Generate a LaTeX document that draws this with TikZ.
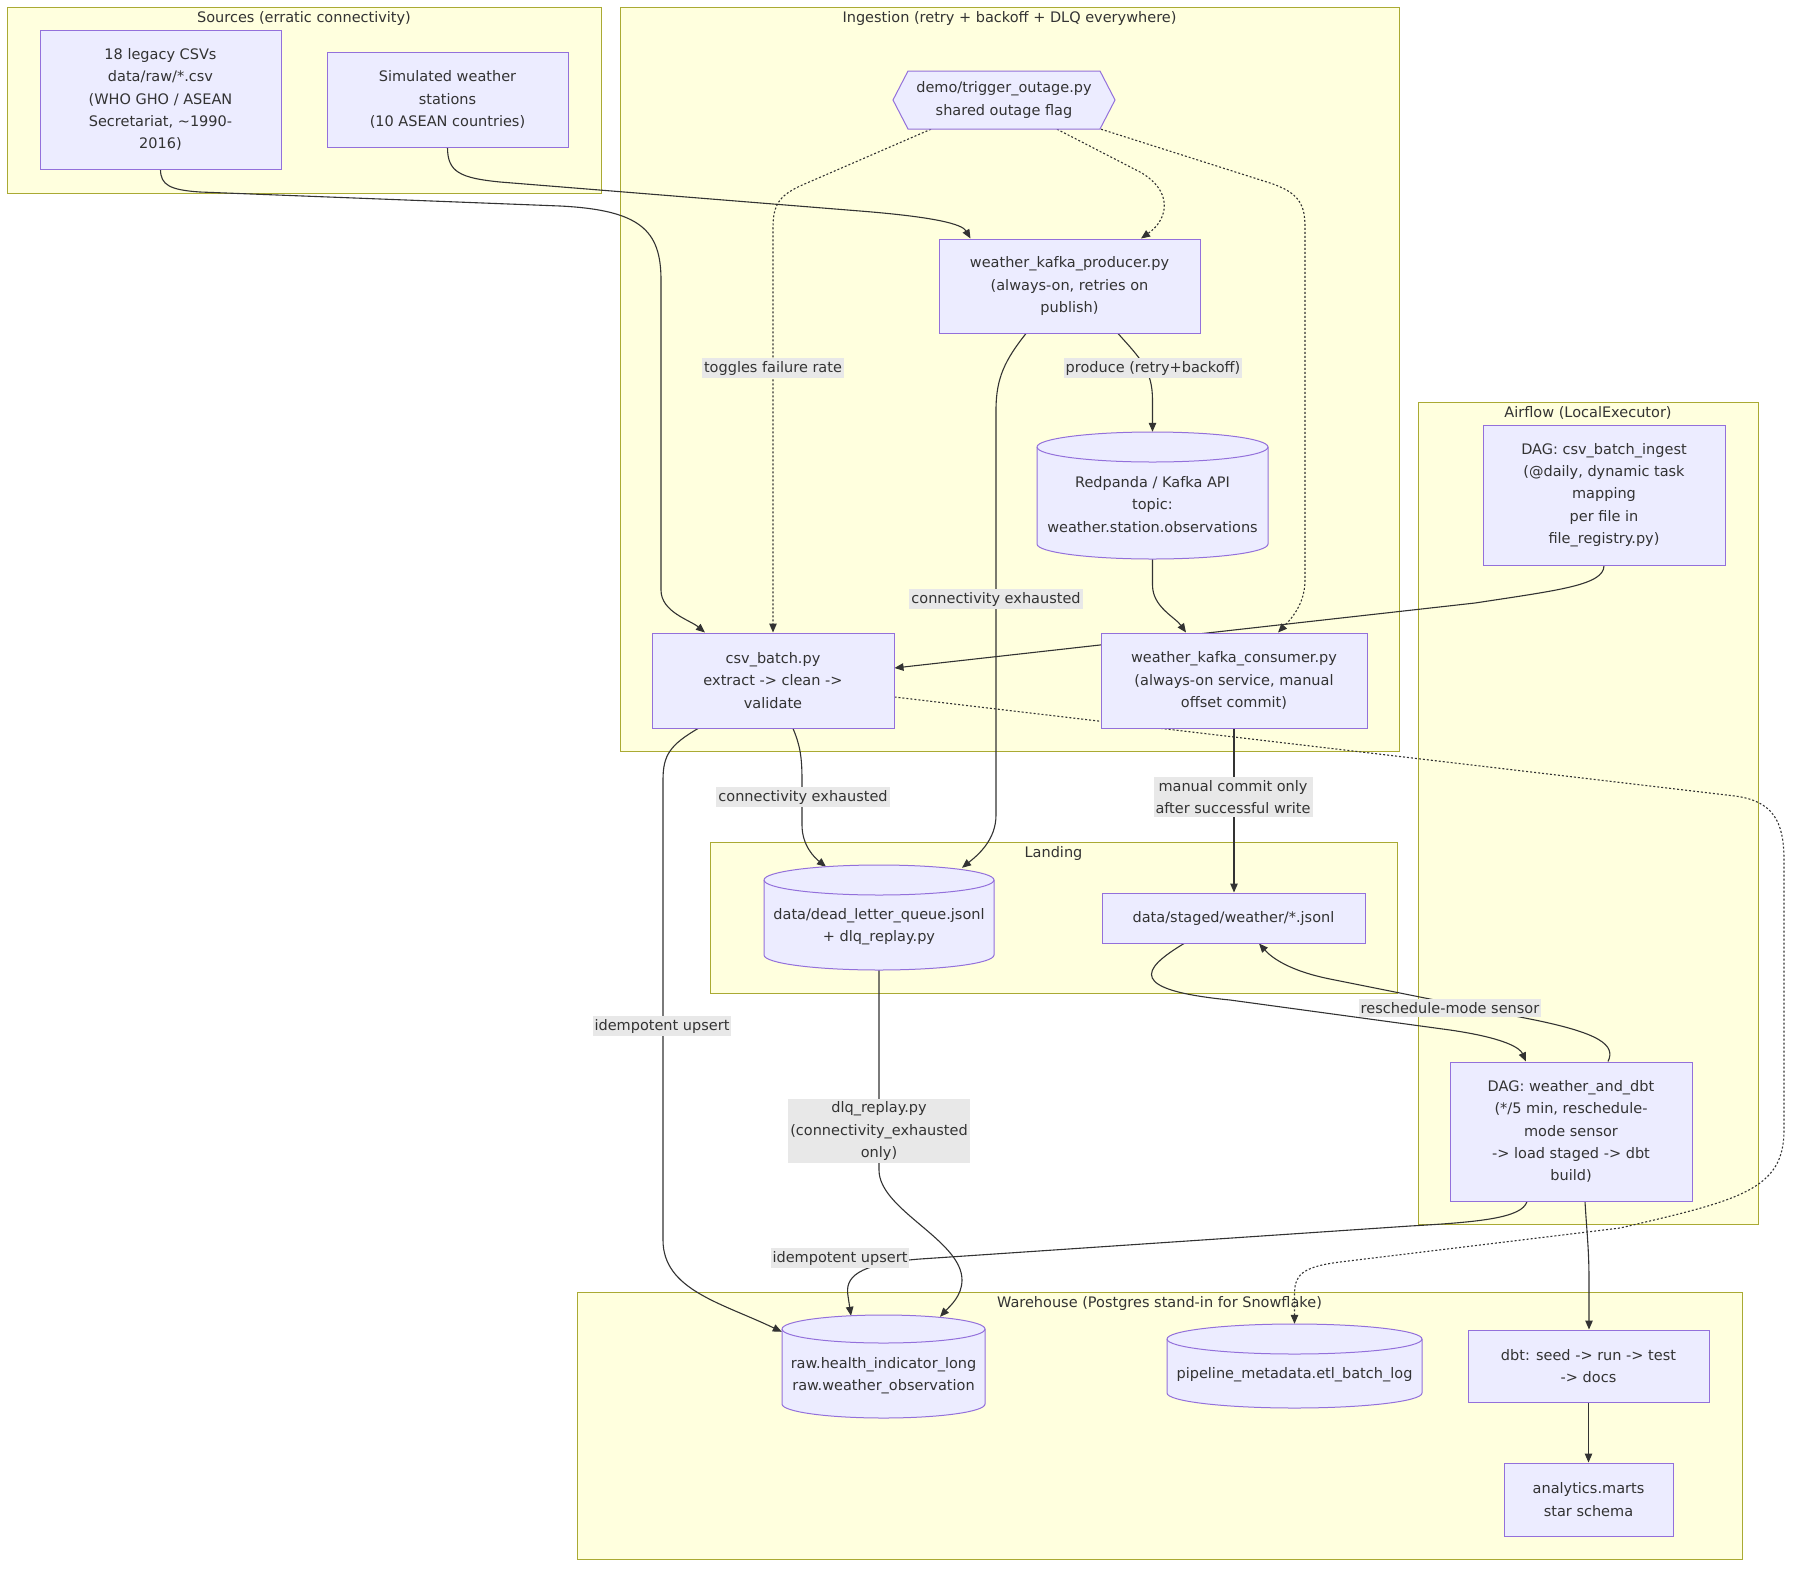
\documentclass[tikz,border=0pt]{standalone}
\usepackage{fontspec}
\setmainfont{DejaVu Sans}
\usetikzlibrary{arrows.meta,calc}
\definecolor{nodefill}{HTML}{ECECFF}
\definecolor{nodeborder}{HTML}{9370DB}
\definecolor{clfill}{HTML}{FFFFDE}
\definecolor{clborder}{HTML}{AAAA33}
\definecolor{edgecol}{HTML}{333333}
\definecolor{textcol}{HTML}{333333}
\definecolor{labelbg}{HTML}{E8E8E8}
\pgfdeclarelayer{clusters}
\pgfdeclarelayer{edges}
\pgfsetlayers{clusters,edges,main}
\tikzset{
  nodebox/.style={draw=nodeborder, fill=nodefill, line width=1pt, align=center, inner sep=0pt, text=textcol},
  nodeline/.style={draw=nodeborder, line width=1pt},
  anchorbox/.style={inner sep=0pt, draw=none},
  cyltext/.style={align=center, inner sep=0pt, text=textcol},
  clbox/.style={fill=clfill, draw=clborder, line width=1pt},
  cltitle/.style={text=textcol, inner sep=0pt},
  conn/.style={draw=edgecol, line width=1.1pt, -{Triangle[length=9pt,width=7.5pt]}},
  dotconn/.style={conn, dash pattern=on 2pt off 2pt},
  elabel/.style={fill=labelbg, inner xsep=2pt, inner ysep=3pt, align=center, text=textcol},
}
\newcommand\rectnode[6]{%
  \node[nodebox, minimum width={#4-#2}, minimum height={#5-#3}] (#1) at ({(#2+#4)/2},{(#3+#5)/2}) {#6};}
\newcommand\dbcyl[7]{% name, x1, y1, x2, y2, ry, text
  \pgfmathsetmacro\cylrx{(#4-#2)/2}%
  \pgfmathsetmacro\cylcx{(#2+#4)/2}%
  \pgfmathsetmacro\cylcy{(#3+#5)/2}%
  \filldraw[nodeline, fill=nodefill] (#2,{#3+#6}) -- (#2,{#5-#6})
     arc[start angle=180,end angle=360,x radius=\cylrx pt,y radius=#6pt]
     -- (#4,{#3+#6})
     arc[start angle=0,end angle=180,x radius=\cylrx pt,y radius=#6pt] -- cycle;
  \draw[nodeline] (#2,{#3+#6}) arc[start angle=180,end angle=360,x radius=\cylrx pt,y radius=#6pt];
  \node[anchorbox, minimum width={#4-#2}, minimum height={#5-#3}] (#1) at (\cylcx,\cylcy) {};
  \node[cyltext] (#1-text) at (\cylcx,{\cylcy+9}) {#7};}
\newcommand\clusterbox[6]{% name, x1,y1,x2,y2,title
  \draw[clbox] (#2,#3) rectangle (#4,#5);
  \node[cltitle] (#1) at ({(#2+#4)/2},{#3+11}) {#6};}

\begin{document}
\begin{tikzpicture}[x=1pt,y=-1pt,font=\fontsize{14.5}{22.3}\selectfont]
\useasboundingbox (0,0) rectangle (1800,1575);

\begin{pgfonlayer}{clusters}
  \fill[white] (0,0) rectangle (1800,1575);
  \clusterbox{clsrc}{7}{7}{601}{193}{Sources (erratic connectivity)}
  \clusterbox{cling}{620}{7}{1399}{751}{Ingestion (retry + backoff + DLQ everywhere)}
  \clusterbox{clair}{1418}{402}{1758}{1224}{Airflow (LocalExecutor)}
  \clusterbox{clland}{710}{842}{1397}{993}{Landing}
  \clusterbox{clwh}{577}{1292}{1742}{1559}{Warehouse (Postgres stand-in for Snowflake)}
\end{pgfonlayer}

% ---------- nodes ----------
\rectnode{csvs}{40}{30}{281}{169}{18 legacy CSVs\\data/raw/*.csv\\(WHO GHO / ASEAN\\Secretariat, \textasciitilde1990-\\2016)}
\rectnode{sim}{327}{52}{568}{147}{Simulated weather\\stations\\(10 ASEAN countries)}

\filldraw[nodeline, fill=nodefill] (893,100) -- (908,71) -- (1100,71) -- (1115,100) -- (1100,129) -- (908,129) -- cycle;
\node[anchorbox, align=center, text=textcol, minimum width=222, minimum height=58] (hex) at (1004,100) {demo/trigger\_outage.py\\shared outage flag};

\rectnode{prod}{939}{239}{1200}{333}{weather\_kafka\_producer.py\\(always-on, retries on\\publish)}
\dbcyl{rp}{1037}{432}{1268}{559}{15}{Redpanda / Kafka API\\topic:\\weather.station.observations}
\rectnode{csvb}{652}{633}{894}{728}{csv\_batch.py\\extract -> clean ->\\validate}
\rectnode{cons}{1101}{633}{1367}{728}{weather\_kafka\_consumer.py\\(always-on service, manual\\offset commit)}
\rectnode{dagcsv}{1483}{425}{1725}{565}{DAG: csv\_batch\_ingest\\(@daily, dynamic task\\mapping\\per file in\\file\_registry.py)}
\dbcyl{dlq}{764}{865}{994}{970}{15}{data/dead\_letter\_queue.jsonl\\+ dlq\_replay.py}
\rectnode{staged}{1102}{893}{1365}{943}{data/staged/weather/*.jsonl}
\rectnode{dagw}{1450}{1062}{1692}{1201}{DAG: weather\_and\_dbt\\(*/5 min, reschedule-\\mode sensor\\-> load staged -> dbt\\build)}
\dbcyl{raw}{782}{1315}{985}{1418}{14}{raw.health\_indicator\_long\\raw.weather\_observation}
\dbcyl{meta}{1167}{1324}{1422}{1408}{15}{pipeline\_metadata.etl\_batch\_log}
\rectnode{dbt}{1468}{1330}{1709}{1402}{dbt: seed -> run -> test\\-> docs}
\rectnode{marts}{1504}{1463}{1673}{1536}{analytics.marts\\star schema}

% ---------- connectors ----------
\begin{pgfonlayer}{edges}
\draw[conn] (csvs.south) .. controls (160.5,185) and (170,190) .. (200,192) -- (560,206)
  .. controls (640,210) and (661,230) .. (661,280) -- (661,590)
  .. controls (661,612) and (690,620) .. ([xshift=-68pt]csvb.north);
\draw[conn] (sim.south) .. controls (447.5,172) and (460,178) .. (500,182) -- (860,211)
  .. controls (935,217) and (962,224) .. ([xshift=-99pt]prod.north);
\draw[dotconn] ([xshift=-73pt]hex.south) -- (800,186) .. controls (779,196) and (773,205) .. (773,228) -- (csvb.north);
\draw[dotconn] ([xshift=53pt]hex.south) -- (1140,172) .. controls (1172,190) and (1170,218) .. ([xshift=71.5pt]prod.north);
\draw[dotconn] ([xshift=97pt]hex.south) -- (1270,183) .. controls (1300,193) and (1305,205) .. (1305,228) -- (1305,580)
  .. controls (1305,605) and (1290,620) .. ([xshift=44pt]cons.north);
\draw[conn] ([xshift=-43.5pt]prod.south) .. controls (1005,360) and (996,378) .. (996,410) -- (996,815)
  .. controls (996,840) and (978,855) .. ([xshift=83pt,yshift=-3pt]dlq.north);
\draw[conn] ([xshift=48.5pt]prod.south) .. controls (1140,358) and (1152.5,370) .. (1152.5,400) -- (rp.north);
\draw[conn] (rp.south) -- (1152.5,585) .. controls (1152.5,607) and (1175,617) .. ([xshift=-48pt]cons.north);
\draw[conn] (dagcsv.south) .. controls (1604,585) and (1560,590) .. (1475,603) -- ([yshift=12.5pt]csvb.east);
\draw[dotconn] ([yshift=-16.5pt]csvb.east) -- (1735,796) .. controls (1772,801) and (1784,820) .. (1784,860) -- (1784,1130)
  .. controls (1784,1190) and (1740,1200) .. (1620,1228) -- (1340,1262)
  .. controls (1300,1267) and (1294.5,1276) .. (1294.5,1295) -- (meta.north);
\draw[conn] ([xshift=-75pt]csvb.south) .. controls (670,745) and (663,755) .. (663,780) -- (663,1240)
  .. controls (663,1290) and (722,1303) .. ([yshift=-17pt]raw.north west);
\draw[conn] ([xshift=20pt]csvb.south) .. controls (800,745) and (802,757) .. (802,780) -- (802,825)
  .. controls (802,846) and (815,858) .. ([xshift=-53pt,yshift=-2pt]dlq.north);
\draw[conn] (cons.south) -- (cons.south |- staged.north);
\draw[conn] ([xshift=-49.5pt]staged.south) .. controls (1140,970) and (1128,990) .. (1230,1000) -- (1450,1030)
  .. controls (1505,1038) and (1520,1048) .. ([xshift=-45pt]dagw.north);
\draw[conn] ([xshift=37pt]dagw.north) .. controls (1616,1045) and (1600,1033) .. (1530,1019) -- (1330,979)
  .. controls (1290,971) and (1272,958) .. ([xshift=25.5pt]staged.south);
\draw[conn] ([xshift=-44pt]dagw.south) .. controls (1522,1218) and (1480,1222) .. (1410,1226) -- (920,1259)
  .. controls (855,1264) and (845,1278) .. (848,1296) -- ([xshift=-32.5pt,yshift=-1pt]raw.north);
\draw[conn] (dlq.south) -- (879,1170) .. controls (879,1210) and (962,1240) .. (962,1280)
  .. controls (962,1296) and (950,1306) .. ([xshift=56.5pt,yshift=-2pt]raw.north);
\draw[conn] ([xshift=14pt]dagw.south) .. controls (1587,1235) and (1589,1250) .. (1589,1280) -- ([xshift=0.5pt]dbt.north);
\draw[conn] (dbt.south) -- (marts.north);
\end{pgfonlayer}

% ---------- edge labels ----------
\node[elabel] (l1) at (773,368) {toggles failure rate};
\node[elabel] (l2) at (1153,368) {produce (retry+backoff)};
\node[elabel] (l3) at (996,599) {connectivity exhausted};
\node[elabel] (l4) at (803,797) {connectivity exhausted};
\node[elabel] (l5) at (1233,797) {manual commit only\\after successful write};
\node[elabel] (l6) at (662,1026) {idempotent upsert};
\node[elabel] (l7) at (1450,1008) {reschedule-mode sensor};
\node[elabel] (l8) at (879,1131) {dlq\_replay.py\\(connectivity\_exhausted\\only)};
\node[elabel] (l9) at (840,1258) {idempotent upsert};
\end{tikzpicture}
\end{document}
